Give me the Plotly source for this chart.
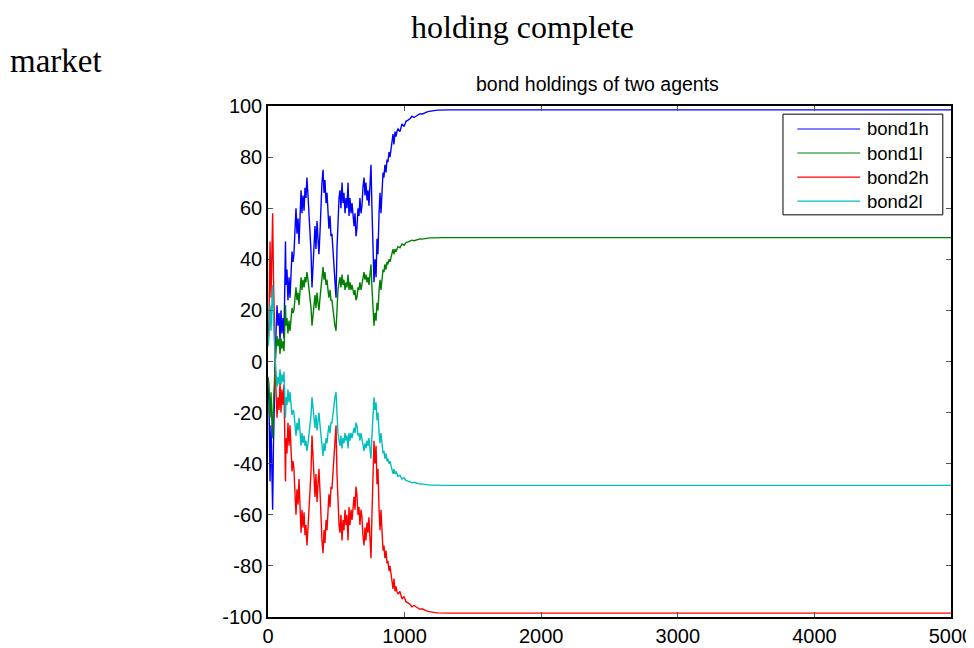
import plotly.graph_objects as go

# ---- data ----
steps = [0, 7, 15, 22, 29, 34, 40, 44, 51, 59, 66, 73, 81, 88, 95, 102, 110, 117, 124, 128,
         132, 139, 146, 154, 161, 168, 176, 183, 190, 198, 205, 212, 220, 227, 234, 242, 249, 256, 264, 271,
         278, 285, 293, 300, 307, 315, 322, 329, 337, 344, 351, 359, 366, 373, 381, 388, 395, 403, 410, 417,
         425, 432, 439, 446, 454, 461, 468, 476, 483, 490, 498, 505, 512, 520, 527, 534, 542, 549, 556, 564,
         571, 578, 586, 593, 600, 608, 615, 622, 630, 637, 644, 651, 659, 666, 673, 681, 688, 695, 703, 710,
         717, 725, 732, 739, 747, 754, 761, 769, 776, 783, 791, 798, 805, 813, 820, 827, 835, 842, 849, 856,
         864, 871, 878, 886, 893, 900, 908, 915, 922, 930, 937, 944, 952, 966, 981, 996, 1010, 1025, 1039, 1054,
         1069, 1083, 1098, 1113, 1127, 1142, 1157, 1171, 1186, 1215, 1244, 1288, 1332, 2000, 3000, 4000, 5000]

bond1h = [-9, -16, -47, -25, -44, -58, -33, -18, -4, 12, 22, 14, 19, 8, 20, 11, 17, 9, 26, 47,
          30, 36, 24, 33, 25, 38, 43, 39, 42, 52, 60, 50, 56, 46, 54, 67, 58, 65, 59, 68,
          64, 72, 65, 59, 50, 43, 29, 38, 47, 53, 44, 55, 48, 42, 51, 62, 70, 75, 66, 71,
          62, 66, 58, 52, 57, 49, 50, 42, 35, 29, 25, 44, 57, 64, 67, 60, 70, 62, 66, 58,
          64, 60, 70, 57, 64, 58, 62, 57, 53, 58, 49, 52, 60, 57, 64, 58, 61, 68, 72, 65,
          70, 63, 67, 61, 72, 77, 60, 44, 31, 40, 33, 48, 42, 58, 66, 58, 70, 74, 72, 77,
          74, 79, 78, 82, 80, 84, 86, 89, 85, 90, 88, 90, 91, 90, 93, 92, 94, 94.5, 95, 96,
          95.5, 96, 96.5, 97, 96.8, 97.3, 97.5, 97.8, 98, 98.2, 98.4, 98.5, 98.5, 98.5, 98.5, 98.5, 98.5]

bond1l = [-6, -9, -22, -12, -24, -30, -17, -10, -3, 5, 10, 6, 9, 3, 9, 5, 8, 4, 12, 22,
          14, 17, 11, 16, 12, 18, 21, 19, 20, 25, 29, 24, 27, 22, 26, 33, 28, 32, 29, 33,
          31, 35, 32, 29, 24, 21, 14, 18, 23, 26, 21, 27, 23, 20, 25, 30, 34, 37, 32, 35,
          30, 32, 28, 25, 28, 24, 24, 20, 17, 14, 12, 21, 28, 31, 33, 29, 34, 30, 32, 28,
          31, 29, 34, 28, 31, 28, 30, 28, 26, 28, 24, 25, 29, 28, 31, 28, 30, 33, 35, 32,
          34, 31, 33, 30, 35, 38, 29, 21, 14, 19, 16, 23, 20, 28, 32, 28, 34, 36, 35, 38,
          36, 39, 38, 40, 39, 41, 42, 44, 42, 44, 43, 44, 45, 44.5, 46, 45.5, 46.5, 46.8, 47, 47.5,
          47.3, 47.5, 47.8, 48, 47.9, 48.1, 48.2, 48.3, 48.4, 48.4, 48.5, 48.5, 48.5, 48.5, 48.5, 48.5, 48.5]

bond2h = [9, 16, 47, 25, 44, 58, 33, 18, 4, -12, -22, -14, -19, -8, -20, -11, -17, -9, -26, -47,
          -30, -36, -24, -33, -25, -38, -43, -39, -42, -52, -60, -50, -56, -46, -54, -67, -58, -65, -59, -68,
          -64, -72, -65, -59, -50, -43, -29, -38, -47, -53, -44, -55, -48, -42, -51, -62, -70, -75, -66, -71,
          -62, -66, -58, -52, -57, -49, -50, -42, -35, -29, -25, -44, -57, -64, -67, -60, -70, -62, -66, -58,
          -64, -60, -70, -57, -64, -58, -62, -57, -53, -58, -49, -52, -60, -57, -64, -58, -61, -68, -72, -65,
          -70, -63, -67, -61, -72, -77, -60, -44, -31, -40, -33, -48, -42, -58, -66, -58, -70, -74, -72, -77,
          -74, -79, -78, -82, -80, -84, -86, -89, -85, -90, -88, -90, -91, -90, -93, -92, -94, -94.5, -95, -96,
          -95.5, -96, -96.5, -97, -96.8, -97.3, -97.5, -97.8, -98, -98.2, -98.4, -98.5, -98.5, -98.5, -98.5, -98.5, -98.5]

bond2l = [6, 9, 22, 12, 24, 30, 17, 10, 3, -5, -10, -6, -9, -3, -9, -5, -8, -4, -12, -22,
          -14, -17, -11, -16, -12, -18, -21, -19, -20, -25, -29, -24, -27, -22, -26, -33, -28, -32, -29, -33,
          -31, -35, -32, -29, -24, -21, -14, -18, -23, -26, -21, -27, -23, -20, -25, -30, -34, -37, -32, -35,
          -30, -32, -28, -25, -28, -24, -24, -20, -17, -14, -12, -21, -28, -31, -33, -29, -34, -30, -32, -28,
          -31, -29, -34, -28, -31, -28, -30, -28, -26, -28, -24, -25, -29, -28, -31, -28, -30, -33, -35, -32,
          -34, -31, -33, -30, -35, -38, -29, -21, -14, -19, -16, -23, -20, -28, -32, -28, -34, -36, -35, -38,
          -36, -39, -38, -40, -39, -41, -42, -44, -42, -44, -43, -44, -45, -44.5, -46, -45.5, -46.5, -46.8, -47, -47.5,
          -47.3, -47.5, -47.8, -48, -47.9, -48.1, -48.2, -48.3, -48.4, -48.4, -48.5, -48.5, -48.5, -48.5, -48.5, -48.5, -48.5]

series_names = ["bond1h", "bond1l", "bond2h", "bond2l"]
series_values = [bond1h, bond1l, bond2h, bond2l]
series_colors = ["#0000FF", "#008000", "#FF0000", "#00BFBF"]

x_ticks = [0, 1000, 2000, 3000, 4000, 5000]
x_tick_labels = ["0", "1000", "2000", "3000", "4000", "5000"]
y_ticks = [-100, -80, -60, -40, -20, 0, 20, 40, 60, 80, 100]
y_tick_labels = ["-100", "-80", "-60", "-40", "-20", "0", "20", "40", "60", "80", "100"]

SANS = "Liberation Sans, Arial, sans-serif"
SERIF = "Liberation Serif, Times New Roman, serif"

fig = go.Figure()
for name, vals, col in zip(series_names, series_values, series_colors):
    fig.add_trace(go.Scatter(x=steps, y=vals, mode="lines", name=name,
                             line=dict(color=col, width=1.4), showlegend=False))

axis_common = dict(showline=True, linecolor="black", linewidth=1.5, mirror="ticks",
                   ticks="inside", ticklen=5, tickcolor="#555555", tickwidth=1,
                   showgrid=False, zeroline=False, automargin=False,
                   tickfont=dict(family=SANS, size=20, color="black"))

# legend box drawn inside the axes (matching the reference layout)
leg_x0, leg_x1, leg_y0, leg_y1 = 0.754, 0.988, 0.787, 0.984
row_y = [0.955, 0.908, 0.861, 0.814]
shapes = [dict(type="rect", xref="paper", yref="paper", x0=leg_x0, x1=leg_x1, y0=leg_y0, y1=leg_y1,
               line=dict(color="black", width=1), fillcolor="white", layer="above")]
annotations = []
for name, col, ry in zip(series_names, series_colors, row_y):
    shapes.append(dict(type="line", xref="paper", yref="paper", x0=0.775, x1=0.867, y0=ry, y1=ry,
                       line=dict(color=col, width=1.2), layer="above"))
    annotations.append(dict(text=name, xref="paper", yref="paper", x=0.874, y=ry,
                            xanchor="left", yanchor="middle", showarrow=False,
                            font=dict(family=SANS, size=18.5, color="black")))

annotations += [
    dict(text="bond holdings of two agents", xref="paper", yref="paper",
         x=0.482, y=1.043, xanchor="center", yanchor="middle", showarrow=False,
         font=dict(family=SANS, size=19.5, color="black")),
    dict(text="holding complete", xref="paper", yref="paper",
         x=0.372, y=1.1918, xanchor="center", yanchor="top", showarrow=False,
         borderpad=0, font=dict(family=SERIF, size=32, color="black")),
    dict(text="market", xref="paper", yref="paper",
         x=-0.381, y=1.088, xanchor="left", yanchor="middle", showarrow=False,
         font=dict(family=SERIF, size=33, color="black")),
]

# the page body adds an 8 px offset, so margins are shifted to land the axes where the reference has them
fig.update_layout(
    width=974, height=648,
    margin=dict(l=260, r=31, t=98, b=39, autoexpand=False),
    paper_bgcolor="white", plot_bgcolor="white",
    xaxis=dict(range=[0, 5000], tickvals=x_ticks, ticktext=x_tick_labels, **axis_common),
    yaxis=dict(range=[-100, 100], tickvals=y_ticks, ticktext=y_tick_labels, **axis_common),
    showlegend=False,
    shapes=shapes,
    annotations=annotations,
)

fig.write_html("out.html")
